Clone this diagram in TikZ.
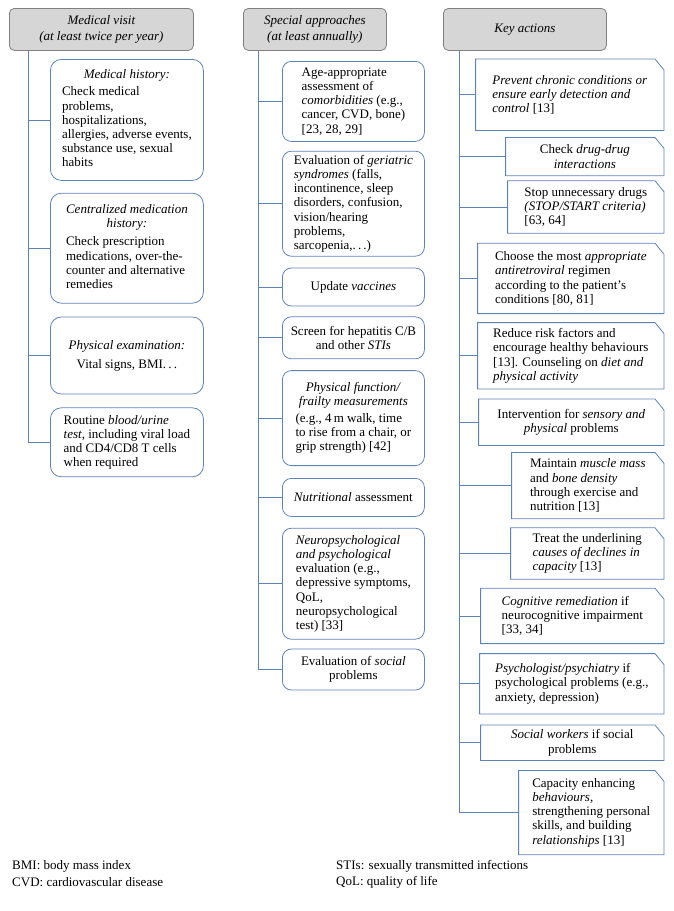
\documentclass[tikz,border=0pt]{standalone}
\usepackage{fontspec}
\setmainfont{Liberation Serif}
\usetikzlibrary{positioning}

\definecolor{boxblue}{RGB}{95,130,180}
\definecolor{headgray}{RGB}{214,214,214}
\definecolor{headline}{RGB}{128,128,128}

\tikzset{
  every node/.style={font=\fontsize{13}{14.2}\selectfont, inner sep=2pt},
  head/.style={draw=headline, fill=headgray, line width=0.8pt, rounded corners=5pt, minimum height=42pt, align=center, anchor=north west, font=\itshape\fontsize{13}{16.5}\selectfont},
  visitbox/.style={draw=boxblue, line width=0.8pt, rounded corners=11pt, minimum width=153pt, anchor=north west},
  specbox/.style={draw=boxblue, line width=0.8pt, rounded corners=9pt, minimum width=142pt, anchor=north west},
  keybox/.style={anchor=north east},
  link/.style={draw=boxblue, line width=0.8pt},
  note/.style={anchor=west}
}

\begin{document}
\begin{tikzpicture}[x=1pt, y=1pt]
\useasboundingbox (0,0) rectangle (674,-911);

\node[head, minimum width=184pt] (visit) at (9,-8) {Medical visit\\(at least twice per year)};
\node[head, minimum width=143pt] (special) at (243,-8) {Special approaches\\(at least annually)};
\node[head, minimum width=163pt] (key) at (443,-8) {Key actions};

% medical visit column
\node[visitbox, minimum height=121pt] (history) at (50,-59) {\begin{tabular}{@{}l@{}}
  \multicolumn{1}{@{}c@{}}{\textit{Medical history:}}\\[3pt]
  Check medical\\ problems,\\ hospitalizations,\\ allergies, adverse events,\\ substance use, sexual\\ habits
\end{tabular}};
\node[below=12pt of history.south west, visitbox, minimum height=110pt] (medication) {\begin{tabular}{@{}l@{}}
  \multicolumn{1}{@{}c@{}}{\textit{Centralized medication}}\\
  \multicolumn{1}{@{}c@{}}{\textit{history:}}\\[4pt]
  Check prescription\\ medications, over-the-\\ counter and alternative\\ remedies
\end{tabular}};
\node[below=13pt of medication.south west, visitbox, minimum height=77pt, align=center] (exam) {\textit{Physical examination:}\\[5pt] Vital signs, BMI.\,.\,.};
\node[below=13pt of exam.south west, visitbox, minimum height=69pt, align=left] (blood) {Routine \textit{blood/urine}\\ \textit{test}, including viral load\\ and CD4/CD8 T cells\\ when required};

% special approaches column
\node[specbox, minimum height=80pt, align=left] (age) at (282,-61) {Age-appropriate\\ assessment of\\ \textit{comorbidities} (e.g.,\\ cancer, CVD, bone)\\ {[}23, 28, 29{]}};
\node[below=9pt of age.south west, specbox, minimum height=105pt, align=left] (geriatric) {Evaluation of \textit{geriatric}\\ \textit{syndromes} (falls,\\ incontinence, sleep\\ disorders, confusion,\\ vision/hearing\\ problems,\\ sarcopenia,.\,.\,.)};
\node[below=11pt of geriatric.south west, specbox, minimum height=38pt, align=center] (vaccines) {Update \textit{vaccines}};
\node[below=10pt of vaccines.south west, specbox, minimum height=42pt, align=center] (hepatitis) {Screen for hepatitis C/B\\ and other \textit{STIs}};
\node[below=11pt of hepatitis.south west, specbox, minimum height=95pt] (frailty) {\begin{tabular}{@{}l@{}}
  \multicolumn{1}{@{}c@{}}{\textit{Physical function/}}\\
  \multicolumn{1}{@{}c@{}}{\textit{frailty measurements}}\\[3pt]
  (e.g., 4\,m walk, time\\ to rise from a chair, or\\ grip strength) [42]
\end{tabular}};
\node[below=12pt of frailty.south west, specbox, minimum height=38pt, align=center] (nutrition) {\textit{Nutritional} assessment};
\node[below=11pt of nutrition.south west, specbox, minimum height=111pt, align=left] (neuro) {\textit{Neuropsychological}\\ \textit{and psychological}\\ evaluation (e.g.,\\ depressive symptoms,\\ QoL,\\ neuropsychological\\ test) [33]};
\node[below=9pt of neuro.south west, specbox, minimum height=41pt, align=center] (socialeval) {Evaluation of \textit{social}\\ problems};

% key actions column
\node[keybox, minimum width=188pt, minimum height=71pt, align=left] (prevent) at (664,-59) {\textit{Prevent chronic conditions or}\\ \textit{ensure early detection and}\\ \textit{control} [13]};
\node[below=7pt of prevent.south east, keybox, minimum width=158pt, minimum height=38pt, align=center] (interact) {Check \textit{drug-drug}\\ \textit{interactions}};
\node[below=5pt of interact.south east, keybox, minimum width=156pt, minimum height=52pt, align=left] (stopdrugs) {Stop unnecessary drugs\\ \textit{(STOP/START criteria)}\\ {[}63, 64{]}};
\node[below=10pt of stopdrugs.south east, keybox, minimum width=186pt, minimum height=70pt, align=left] (regimen) {Choose the most \textit{appropriate}\\ \textit{antiretroviral} regimen\\ according to the patient's\\ conditions [80, 81]};
\node[below=9pt of regimen.south east, keybox, minimum width=186pt, minimum height=66pt, align=left] (risk) {Reduce risk factors and\\ encourage healthy behaviours\\ {[}13{]}. Counseling on \textit{diet and}\\ \textit{physical activity}};
\node[below=10pt of risk.south east, keybox, minimum width=185pt, minimum height=46pt, align=center] (sensory) {Intervention for \textit{sensory and}\\ \textit{physical} problems};
\node[below=7pt of sensory.south east, keybox, minimum width=152pt, minimum height=66pt, align=left] (muscle) {Maintain \textit{muscle mass}\\ and \textit{bone density}\\ through exercise and\\ nutrition [13]};
\node[below=9pt of muscle.south east, keybox, minimum width=153pt, minimum height=51pt, align=left] (causes) {Treat the underlining\\ \textit{causes of declines in}\\ \textit{capacity} [13]};
\node[below=9pt of causes.south east, keybox, minimum width=183pt, minimum height=55pt, align=left] (cognitive) {\textit{Cognitive remediation} if\\ neurocognitive impairment\\ {[}33, 34{]}};
\node[below=10pt of cognitive.south east, keybox, minimum width=184pt, minimum height=60pt, align=left] (psych) {\textit{Psychologist/psychiatry} if\\ psychological problems (e.g.,\\ anxiety, depression)};
\node[below=11pt of psych.south east, keybox, minimum width=183pt, minimum height=35pt, align=center] (socialwork) {\textit{Social workers} if social\\ problems};
\node[below=10pt of socialwork.south east, keybox, minimum width=145pt, minimum height=84pt, align=left] (capacity) {Capacity enhancing\\ \textit{behaviours},\\ strengthening personal\\ skills, and building\\ \textit{relationships} [13]};

\foreach \k in {prevent,interact,stopdrugs,regimen,risk,sensory,muscle,causes,cognitive,psych,socialwork,capacity}
  \draw[link] (\k.north west) -- ([xshift=-9pt]\k.north east) -- ([yshift=-11pt]\k.north east) |- (\k.south west) -- cycle;

% tree lines
\coordinate (visitline) at ([xshift=19pt]visit.south west);
\coordinate (specialline) at ([xshift=15pt]special.south west);
\coordinate (keyline) at ([xshift=16pt]key.south west);
\draw[link] (visitline) |- (blood.west);
\foreach \b in {history,medication,exam}
  \draw[link] (visitline |- \b.west) -- (\b.west);
\draw[link] (specialline) |- (socialeval.west);
\foreach \b in {age,geriatric,vaccines,hepatitis,frailty,nutrition,neuro}
  \draw[link] (specialline |- \b.west) -- (\b.west);
\draw[link] (keyline) |- (capacity.west);
\foreach \b in {prevent,interact,stopdrugs,regimen,risk,sensory,muscle,causes,cognitive,psych,socialwork}
  \draw[link] (keyline |- \b.west) -- (\b.west);

% abbreviations
\node[note] (bmi) at (10,-866) {BMI: body mass index};
\node[note] (cvd) at (10,-882) {CVD: cardiovascular disease};
\node[note] (sti) at (334,-866) {STIs: sexually transmitted infections};
\node[note] (qol) at (334,-882) {QoL: quality of life};
\end{tikzpicture}
\end{document}
